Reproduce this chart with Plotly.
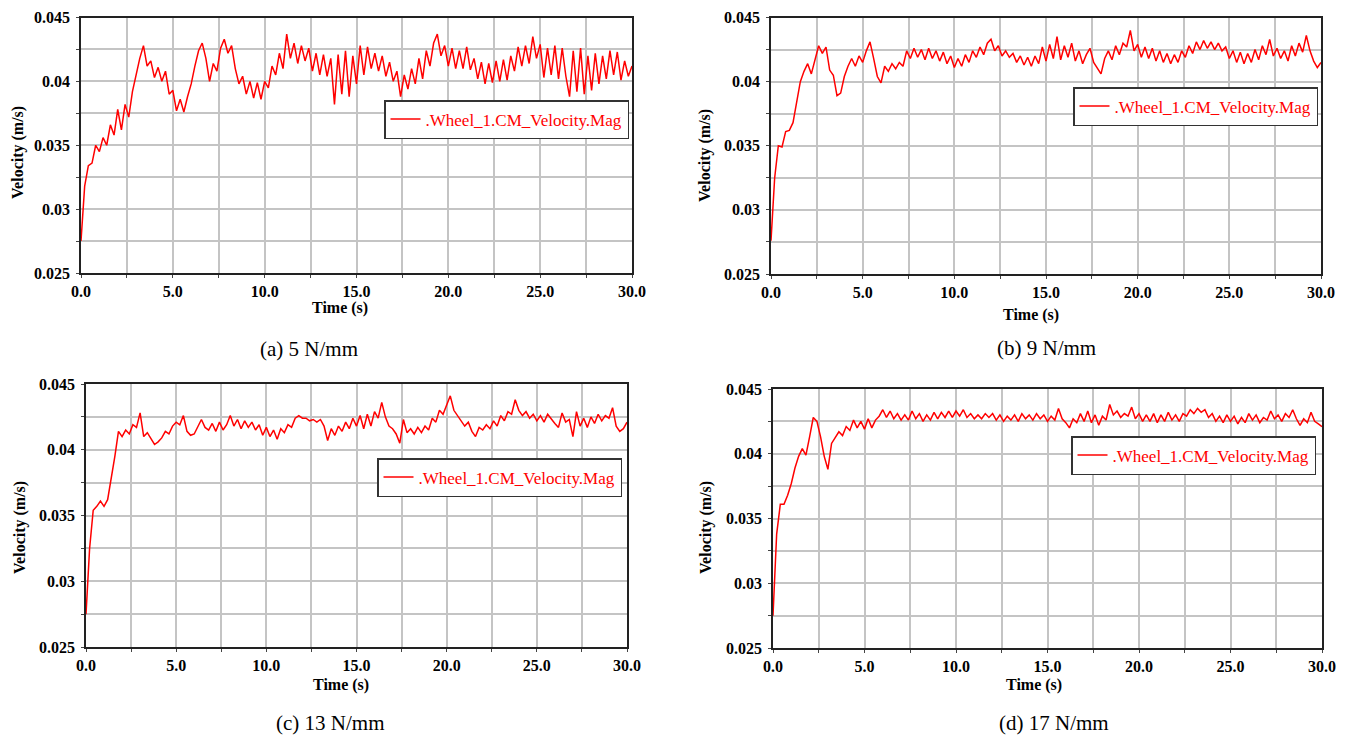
import plotly.graph_objects as go

W, H = 1347, 738
PAGE_OFFSET = 8  # default body margin of the written html page

# ---------------- data ----------------
time_s = [round(i * 0.2, 1) for i in range(151)]

vel_5 = [
    0.0275, 0.0318, 0.0334, 0.0336, 0.0350, 0.0345, 0.0356, 0.0350, 0.0366, 0.0358,
    0.0378, 0.0362, 0.0382, 0.0372, 0.0392, 0.0405, 0.0418, 0.0428, 0.0412, 0.0416,
    0.0403, 0.0411, 0.0400, 0.0408, 0.0390, 0.0393, 0.0377, 0.0386, 0.0376, 0.0388,
    0.0398, 0.0412, 0.0424, 0.0430, 0.0418, 0.0400, 0.0414, 0.0408, 0.0426, 0.0433,
    0.0422, 0.0428, 0.0410, 0.0398, 0.0404, 0.0390, 0.0400, 0.0387, 0.0399, 0.0386,
    0.0400, 0.0395, 0.0412, 0.0405, 0.0422, 0.0410, 0.0437, 0.0418, 0.0430, 0.0414,
    0.0428, 0.0416, 0.0426, 0.0408, 0.0422, 0.0405, 0.0421, 0.0404, 0.0418, 0.0382,
    0.0421, 0.0390, 0.0424, 0.0388, 0.0420, 0.0398, 0.0428, 0.0405, 0.0427, 0.0410,
    0.0422, 0.0408, 0.0420, 0.0404, 0.0415, 0.0400, 0.0408, 0.0388, 0.0405, 0.0394,
    0.0410, 0.0398, 0.0418, 0.0402, 0.0424, 0.0412, 0.0430, 0.0437, 0.0420, 0.0428,
    0.0412, 0.0426, 0.0410, 0.0424, 0.0410, 0.0427, 0.0409, 0.0418, 0.0402, 0.0415,
    0.0398, 0.0414, 0.0399, 0.0416, 0.0400, 0.0417, 0.0401, 0.0420, 0.0408, 0.0427,
    0.0412, 0.0428, 0.0414, 0.0435, 0.0418, 0.0429, 0.0403, 0.0426, 0.0405, 0.0428,
    0.0402, 0.0426, 0.0404, 0.0388, 0.0424, 0.0392, 0.0426, 0.0390, 0.0420, 0.0393,
    0.0422, 0.0398, 0.0420, 0.0402, 0.0424, 0.0405, 0.0423, 0.0401, 0.0416, 0.0404,
    0.0412,
]

vel_9 = [
    0.0276, 0.0325, 0.0350, 0.0349, 0.0361, 0.0362, 0.0368, 0.0383, 0.0400, 0.0408,
    0.0414, 0.0406, 0.0416, 0.0428, 0.0422, 0.0427, 0.0409, 0.0405, 0.0389, 0.0391,
    0.0404, 0.0412, 0.0418, 0.0412, 0.0420, 0.0415, 0.0424, 0.0431, 0.0418, 0.0404,
    0.0399, 0.0412, 0.0408, 0.0414, 0.0410, 0.0415, 0.0412, 0.0424, 0.0418, 0.0426,
    0.0419, 0.0425, 0.0417, 0.0426, 0.0418, 0.0424, 0.0416, 0.0423, 0.0414, 0.0420,
    0.0411, 0.0418, 0.0412, 0.0421, 0.0415, 0.0424, 0.0419, 0.0427, 0.0421, 0.0430,
    0.0433, 0.0424, 0.0428, 0.0420, 0.0424, 0.0419, 0.0422, 0.0415, 0.0420, 0.0413,
    0.0419, 0.0412, 0.0420, 0.0414, 0.0427, 0.0416, 0.0429, 0.0418, 0.0435, 0.0417,
    0.0428, 0.0419, 0.0430, 0.0416, 0.0424, 0.0414, 0.0421, 0.0426, 0.0415, 0.0410,
    0.0406, 0.0418, 0.0424, 0.0417, 0.0428, 0.0421, 0.0430, 0.0427, 0.0440, 0.0424,
    0.0429, 0.0419, 0.0427, 0.0418, 0.0426, 0.0416, 0.0424, 0.0415, 0.0422, 0.0414,
    0.0421, 0.0415, 0.0424, 0.0419, 0.0428, 0.0422, 0.0431, 0.0425, 0.0432, 0.0426,
    0.0431, 0.0425, 0.0430, 0.0424, 0.0427, 0.0418, 0.0424, 0.0415, 0.0423, 0.0414,
    0.0422, 0.0415, 0.0425, 0.0417, 0.0428, 0.0421, 0.0433, 0.0420, 0.0426, 0.0418,
    0.0424, 0.0416, 0.0428, 0.0420, 0.0430, 0.0423, 0.0436, 0.0424, 0.0416, 0.0411,
    0.0415,
]

vel_13 = [
    0.0275, 0.0325, 0.0354, 0.0357, 0.0361, 0.0357, 0.0362, 0.0378, 0.0395, 0.0414,
    0.0410, 0.0415, 0.0412, 0.0419, 0.0417, 0.0428, 0.0410, 0.0413, 0.0408, 0.0404,
    0.0406, 0.0409, 0.0414, 0.0412, 0.0418, 0.0421, 0.0419, 0.0426, 0.0414, 0.0411,
    0.0412, 0.0418, 0.0423, 0.0417, 0.0415, 0.0420, 0.0414, 0.0421, 0.0415, 0.0419,
    0.0426, 0.0418, 0.0423, 0.0416, 0.0422, 0.0417, 0.0421, 0.0415, 0.0419, 0.0411,
    0.0417, 0.0410, 0.0415, 0.0408, 0.0416, 0.0413, 0.0419, 0.0417, 0.0424, 0.0426,
    0.0424, 0.0424, 0.0422, 0.0423, 0.0421, 0.0423, 0.0418, 0.0407, 0.0416, 0.0411,
    0.0418, 0.0414, 0.0421, 0.0416, 0.0424, 0.0418, 0.0426, 0.0416, 0.0427, 0.0418,
    0.0429, 0.0424, 0.0436, 0.0425, 0.0418, 0.0416, 0.0412, 0.0405, 0.0423, 0.0413,
    0.0416, 0.0412, 0.0417, 0.0413, 0.0418, 0.0415, 0.0424, 0.0421, 0.0430, 0.0427,
    0.0434, 0.0441, 0.0430, 0.0426, 0.0422, 0.0418, 0.0421, 0.0414, 0.0410, 0.0417,
    0.0415, 0.0419, 0.0416, 0.0422, 0.0418, 0.0426, 0.0422, 0.0429, 0.0427, 0.0438,
    0.0430, 0.0426, 0.0429, 0.0424, 0.0427, 0.0422, 0.0426, 0.0421, 0.0427, 0.0423,
    0.0420, 0.0417, 0.0428, 0.0421, 0.0423, 0.0410, 0.0429, 0.0418, 0.0424, 0.0417,
    0.0425, 0.0420, 0.0427, 0.0422, 0.0426, 0.0424, 0.0432, 0.0418, 0.0414, 0.0416,
    0.0421,
]

vel_17 = [
    0.0275, 0.0338, 0.0361, 0.0361, 0.0368, 0.0377, 0.0389, 0.0398, 0.0404, 0.0399,
    0.0413, 0.0428, 0.0425, 0.0413, 0.0398, 0.0388, 0.0408, 0.0412, 0.0417, 0.0414,
    0.0421, 0.0418, 0.0426, 0.0420, 0.0425, 0.0419, 0.0427, 0.0420, 0.0426, 0.0429,
    0.0434, 0.0428, 0.0433, 0.0427, 0.0431, 0.0426, 0.0430, 0.0426, 0.0433, 0.0427,
    0.0431, 0.0425, 0.0430, 0.0426, 0.0432, 0.0427, 0.0432, 0.0428, 0.0433, 0.0428,
    0.0433, 0.0429, 0.0434, 0.0428, 0.0431, 0.0427, 0.0430, 0.0427, 0.0431, 0.0428,
    0.0431, 0.0426, 0.0430, 0.0425, 0.0429, 0.0426, 0.0430, 0.0425, 0.0431, 0.0427,
    0.0430, 0.0426, 0.0431, 0.0427, 0.0430, 0.0425, 0.0429, 0.0426, 0.0435, 0.0427,
    0.0424, 0.0420, 0.0427, 0.0424, 0.0431, 0.0425, 0.0433, 0.0424, 0.0430, 0.0422,
    0.0429, 0.0426, 0.0438, 0.0430, 0.0433, 0.0428, 0.0431, 0.0429, 0.0436, 0.0427,
    0.0431, 0.0425, 0.0430, 0.0425, 0.0431, 0.0424, 0.0430, 0.0425, 0.0432, 0.0426,
    0.0430, 0.0425, 0.0431, 0.0429, 0.0434, 0.0431, 0.0435, 0.0432, 0.0434, 0.0428,
    0.0431, 0.0425, 0.0429, 0.0424, 0.0430, 0.0425, 0.0429, 0.0423, 0.0428, 0.0424,
    0.0431, 0.0426, 0.0430, 0.0424, 0.0428, 0.0426, 0.0433, 0.0427, 0.0430, 0.0425,
    0.0431, 0.0428, 0.0434, 0.0427, 0.0422, 0.0427, 0.0424, 0.0432, 0.0425, 0.0423,
    0.0421,
]

series = [vel_5, vel_9, vel_13, vel_17]
captions = ["(a) 5 N/mm", "(b) 9 N/mm", "(c) 13 N/mm", "(d) 17 N/mm"]
legend_name = ".Wheel_1.CM_Velocity.Mag"
x_title = "Time (s)"
y_title = "Velocity (m/s)"
x_ticks = [0, 5, 10, 15, 20, 25, 30]
x_tick_text = ["0.0", "5.0", "10.0", "15.0", "20.0", "25.0", "30.0"]
y_ticks = [0.025, 0.03, 0.035, 0.04, 0.045]
y_tick_text = ["0.025", "0.03", "0.035", "0.04", "0.045"]

# ---------------- layout geometry (screen pixels) ----------------
rects = [(81, 632, 17.5, 273), (771, 1321, 17.5, 274),
         (86, 627, 384, 647), (773, 1322, 389, 648)]
legend_pos = [(629, 100), (1318, 87), (622, 458), (1316, 436)]   # right, top
caption_pos = [(309, 349), (1046, 348), (330, 723), (1054, 723)]
xtitle_pos = [(340, 308), (1031, 315), (341, 685), (1034, 685)]
ytitle_pos = [(18, 153), (705, 155), (20, 528), (706, 528)]

SERIF = "Liberation Serif"

def px(x):
    return (x - PAGE_OFFSET) / W

def py(y):
    return 1 - (y - PAGE_OFFSET) / H

fig = go.Figure()
annotations = []
layout = dict(
    template="none",
    width=W, height=H,
    margin=dict(l=0, r=0, t=0, b=0, pad=0, autoexpand=False),
    paper_bgcolor="white", plot_bgcolor="white",
    showlegend=True,
    font=dict(family=SERIF, color="black"),
)

for k in range(4):
    n = "" if k == 0 else str(k + 1)
    lg = "legend" if k == 0 else "legend" + str(k + 1)
    fig.add_trace(go.Scatter(
        x=time_s, y=series[k], mode="lines", name=legend_name,
        line=dict(color="#ff0000", width=1.5),
        xaxis="x" + n, yaxis="y" + n, legend=lg, showlegend=True,
    ))
    l, r, t, b = rects[k]
    common = dict(
        automargin=False, ticklabeloverflow="allow",
        showline=True, linecolor="#222222", linewidth=1.5, mirror=True,
        showgrid=True, gridcolor="#c4c4c4", gridwidth=1.5,
        zeroline=False, ticks="outside", ticklen=3, tickcolor="#444444",
        tickfont=dict(family=SERIF, size=16, color="black", weight="bold"),
    )
    layout["xaxis" + n] = dict(
        common, domain=[px(l), px(r)], anchor="y" + n, range=[0, 30],
        tickmode="array", tickvals=x_ticks, ticktext=x_tick_text,
        minor=dict(dtick=2.5, tick0=0, showgrid=True, gridcolor="#c4c4c4",
                   gridwidth=1.5, ticks="outside", ticklen=3, tickcolor="#444444"),
    )
    layout["yaxis" + n] = dict(
        common, domain=[py(b), py(t)], anchor="x" + n, range=[0.025, 0.045],
        tickmode="array", tickvals=y_ticks, ticktext=y_tick_text,
        ticklabelstandoff=3,
        minor=dict(dtick=0.0025, tick0=0.025, showgrid=True, gridcolor="#c4c4c4",
                   gridwidth=1.5, ticks="outside", ticklen=3, tickcolor="#444444"),
    )
    lx, ly = legend_pos[k]
    layout[lg] = dict(
        x=px(lx), y=py(ly), xanchor="right", yanchor="top",
        xref="paper", yref="paper",
        bgcolor="white", bordercolor="#333333", borderwidth=1.5,
        font=dict(family=SERIF, size=17, color="#ff0000"),
        itemwidth=30,
    )
    cx, cy = caption_pos[k]
    annotations.append(dict(
        x=px(cx), y=py(cy), xref="paper", yref="paper", text=captions[k],
        showarrow=False, xanchor="center", yanchor="middle",
        font=dict(family=SERIF, size=21, color="black")))
    tx, ty = xtitle_pos[k]
    annotations.append(dict(
        x=px(tx), y=py(ty), xref="paper", yref="paper", text=x_title,
        showarrow=False, xanchor="center", yanchor="middle",
        font=dict(family=SERIF, size=16, color="black", weight="bold")))
    vx, vy = ytitle_pos[k]
    annotations.append(dict(
        x=px(vx), y=py(vy), xref="paper", yref="paper", text=y_title,
        showarrow=False, xanchor="center", yanchor="middle", textangle=-90,
        font=dict(family=SERIF, size=16, color="black", weight="bold")))

layout["annotations"] = annotations
fig.update_layout(**layout)
fig.write_html("out.html")
